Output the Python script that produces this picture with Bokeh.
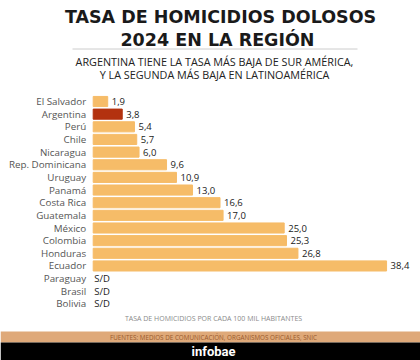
import numpy as np
from bokeh.plotting import figure
from bokeh.models import Range1d, ColumnDataSource
from bokeh.core.properties import value
from bokeh.embed import file_html
from bokeh.resources import INLINE

countries = ["El Salvador", "Argentina", "Perú", "Chile", "Nicaragua", "Rep. Dominicana",
             "Uruguay", "Panamá", "Costa Rica", "Guatemala", "México", "Colombia",
             "Honduras", "Ecuador", "Paraguay", "Brasil", "Bolivia"]
rates = [1.9, 3.8, 5.4, 5.7, 6.0, 9.6, 10.9, 13.0, 16.6, 17.0, 25.0, 25.3, 26.8, 38.4,
         None, None, None]
highlight = "Argentina"

title_lines = ["TASA DE HOMICIDIOS DOLOSOS", "2024  EN LA REGIÓN"]
subtitle_lines = ["ARGENTINA TIENE LA TASA MÁS BAJA DE SUR AMÉRICA,",
                  "Y LA SEGUNDA MÁS BAJA EN LATINOAMÉRICA"]
footnote = "TASA DE HOMICIDIOS POR CADA 100 MIL HABITANTES"
source_txt = "FUENTES: MEDIOS DE COMUNICACIÓN, ORGANISMOS OFICIALES, SNIC"
brand = "infobae"

W, H = 420, 360
x0_px = 92.7          # pixel of value 0
px_per_unit = 7.64
row0_px = 101.0       # pixel (from top) of first row centre
row_px = 12.65

xs = -x0_px / px_per_unit
xe = (W - x0_px) / px_per_unit
y_top = -row0_px / row_px
y_bot = (H - row0_px) / row_px

def px2x(fx):
    return xs + fx / W * (xe - xs)

def px2y(fy):
    return y_top + fy / H * (y_bot - y_top)

p = figure(width=W, height=H, x_range=Range1d(xs, xe), y_range=Range1d(y_bot, y_top),
           output_backend="svg", toolbar_location=None, min_border=0,
           x_axis_location=None, y_axis_location=None)
p.grid.visible = False
p.outline_line_color = None
p.background_fill_color = "white"
p.border_fill_color = "white"

FONT = "Open Sans"
TFONT = "DejaVu Sans"

idx = list(range(len(countries)))
have = [i for i in idx if rates[i] is not None]
missing = [i for i in idx if rates[i] is None]

bar_src = ColumnDataSource(dict(
    y=have,
    right=[rates[i] for i in have],
    color=["#B3320F" if countries[i] == highlight else "#F6BC68" for i in have],
    lab=[f"{rates[i]:.1f}".replace(".", ",") for i in have],
))
p.hbar(y="y", left=0, right="right", height=0.8, color="color", source=bar_src)
p.text(x="right", y="y", text="lab", source=bar_src, x_offset=4,
       text_baseline="middle", text_align="left", text_font=value(FONT),
       text_font_size="9.5px", text_color="#1a1a1a")

sd_src = ColumnDataSource(dict(y=missing, x=[0] * len(missing), lab=["S/D"] * len(missing)))
p.text(x="x", y="y", text="lab", source=sd_src, x_offset=1,
       text_baseline="middle", text_align="left", text_font=value(FONT),
       text_font_size="9.5px", text_color="#1a1a1a")

cat_src = ColumnDataSource(dict(y=idx, x=[0] * len(idx), lab=countries))
p.text(x="x", y="y", text="lab", source=cat_src, x_offset=-7,
       text_baseline="middle", text_align="right", text_font=value(FONT),
       text_font_size="9.8px", text_color="#555555")

# Title
for k, t in enumerate(title_lines):
    p.text(x=[px2x(220)], y=[px2y(16.5 + 23 * k)], text=[t], text_align="center",
           text_baseline="middle", text_font=value(TFONT), text_font_style="bold",
           text_font_size="17.5px", text_color="#1a1a1a")
p.segment(x0=[px2x(72)], x1=[px2x(357)], y0=[px2y(48.5)], y1=[px2y(48.5)],
          line_color="#cccccc", line_width=1)
for k, t in enumerate(subtitle_lines):
    p.text(x=[px2x(214)], y=[px2y(61 + 13 * k)], text=[t], text_align="center",
           text_baseline="middle", text_font=value(FONT),
           text_font_size="10.8px", text_color="#222222")

# Footer
p.text(x=[px2x(213)], y=[px2y(318)], text=[footnote], text_align="center",
       text_baseline="middle", text_font=value(FONT),
       text_font_size="7px", text_color="#8a8a8a")
p.quad(left=[xs], right=[xe], top=[px2y(331)], bottom=[px2y(342)],
       color="#DFA979", line_color=None)
p.text(x=[px2x(213)], y=[px2y(336.5)], text=[source_txt], text_align="center",
       text_baseline="middle", text_font=value(FONT),
       text_font_size="6.3px", text_color="#9A5A2C")
p.quad(left=[xs], right=[xe], top=[px2y(342)], bottom=[y_bot],
       color="#000000", line_color=None)
p.text(x=[px2x(213)], y=[px2y(351)], text=[brand], text_align="center",
       text_baseline="middle", text_font=value("Roboto"), text_font_style="bold",
       text_font_size="13px", text_color="#ffffff")

open("out.html", "w").write(file_html(p, INLINE))
